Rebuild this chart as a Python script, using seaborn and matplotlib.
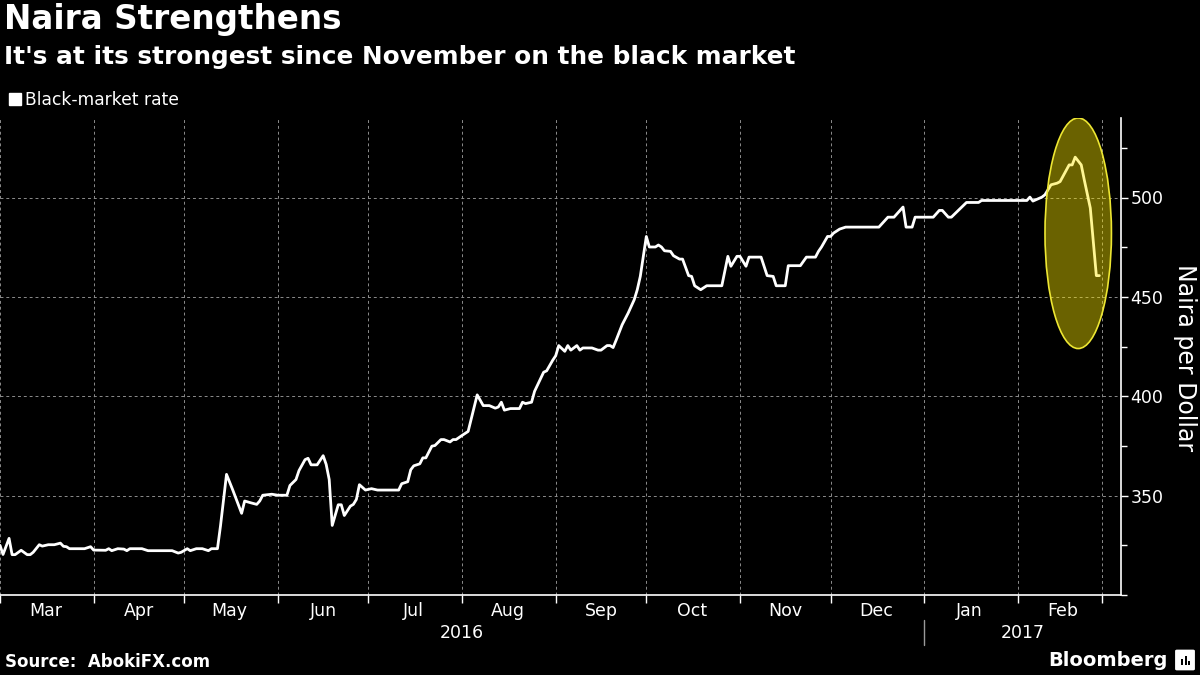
import pandas as pd
import seaborn as sns
import matplotlib.pyplot as plt
import matplotlib.dates as mdates
from matplotlib.patches import Ellipse, FancyBboxPatch, Rectangle
from matplotlib.lines import Line2D

# Black-market naira rate (naira per dollar)
dates = [
    '2016-03-01', '2016-03-02', '2016-03-04', '2016-03-05', '2016-03-06', '2016-03-08',
    '2016-03-10', '2016-03-11', '2016-03-12', '2016-03-14', '2016-03-15', '2016-03-17',
    '2016-03-19', '2016-03-21', '2016-03-22', '2016-03-23', '2016-03-24', '2016-03-29',
    '2016-03-31', '2016-04-01', '2016-04-05', '2016-04-06', '2016-04-07', '2016-04-09',
    '2016-04-11', '2016-04-12', '2016-04-13', '2016-04-17', '2016-04-19', '2016-04-27',
    '2016-04-29', '2016-04-30', '2016-05-02', '2016-05-03', '2016-05-05', '2016-05-07',
    '2016-05-09', '2016-05-10', '2016-05-12', '2016-05-13', '2016-05-15', '2016-05-17',
    '2016-05-20', '2016-05-21', '2016-05-23', '2016-05-25', '2016-05-26', '2016-05-27',
    '2016-05-30', '2016-06-01', '2016-06-04', '2016-06-05', '2016-06-07', '2016-06-08',
    '2016-06-10', '2016-06-11', '2016-06-12', '2016-06-14', '2016-06-16', '2016-06-17',
    '2016-06-18', '2016-06-19', '2016-06-21', '2016-06-22', '2016-06-23', '2016-06-25',
    '2016-06-26', '2016-06-27', '2016-06-28', '2016-06-30', '2016-07-02', '2016-07-04',
    '2016-07-11', '2016-07-12', '2016-07-14', '2016-07-15', '2016-07-16', '2016-07-18',
    '2016-07-19', '2016-07-20', '2016-07-22', '2016-07-23', '2016-07-25', '2016-07-26',
    '2016-07-28', '2016-07-29', '2016-07-30', '2016-08-01', '2016-08-03', '2016-08-06',
    '2016-08-08', '2016-08-10', '2016-08-12', '2016-08-13', '2016-08-14', '2016-08-15',
    '2016-08-17', '2016-08-20', '2016-08-21', '2016-08-22', '2016-08-24', '2016-08-25',
    '2016-08-28', '2016-08-29', '2016-08-31', '2016-09-01', '2016-09-02', '2016-09-04',
    '2016-09-05', '2016-09-06', '2016-09-08', '2016-09-09', '2016-09-10', '2016-09-13',
    '2016-09-15', '2016-09-16', '2016-09-18', '2016-09-19', '2016-09-20', '2016-09-21',
    '2016-09-23', '2016-09-25', '2016-09-27', '2016-09-28', '2016-09-29', '2016-09-30',
    '2016-10-01', '2016-10-02', '2016-10-04', '2016-10-05', '2016-10-06', '2016-10-07',
    '2016-10-09', '2016-10-10', '2016-10-12', '2016-10-13', '2016-10-15', '2016-10-16',
    '2016-10-17', '2016-10-19', '2016-10-21', '2016-10-26', '2016-10-28', '2016-10-29',
    '2016-10-31', '2016-11-01', '2016-11-03', '2016-11-04', '2016-11-08', '2016-11-09',
    '2016-11-10', '2016-11-12', '2016-11-13', '2016-11-16', '2016-11-17', '2016-11-21',
    '2016-11-23', '2016-11-26', '2016-11-27', '2016-11-28', '2016-11-30', '2016-12-01',
    '2016-12-02', '2016-12-04', '2016-12-06', '2016-12-17', '2016-12-20', '2016-12-22',
    '2016-12-25', '2016-12-26', '2016-12-28', '2016-12-29', '2017-01-04', '2017-01-06',
    '2017-01-07', '2017-01-09', '2017-01-10', '2017-01-15', '2017-01-19', '2017-01-20',
    '2017-02-04', '2017-02-05', '2017-02-06', '2017-02-09', '2017-02-10', '2017-02-12',
    '2017-02-14', '2017-02-15', '2017-02-18', '2017-02-19', '2017-02-20', '2017-02-22',
    '2017-02-23', '2017-02-25', '2017-02-27', '2017-02-28',
]
rate = [
    325.0, 320.4, 328.5, 320.3, 320.3, 322.5,
    320.3, 320.3, 321.5, 325.3, 324.6, 325.3,
    325.3, 326.1, 324.5, 324.3, 323.3, 323.3,
    324.3, 322.6, 322.5, 323.3, 322.3, 323.3,
    323.1, 322.3, 323.3, 323.3, 322.3, 322.3,
    321.1, 321.5, 323.3, 322.3, 323.3, 323.3,
    322.3, 323.3, 323.3, 334.7, 360.7, 353.1,
    341.1, 347.3, 346.4, 345.6, 347.3, 350.2,
    350.7, 350.2, 350.2, 355.1, 358.1, 362.6,
    368.1, 368.8, 365.5, 365.5, 370.1, 365.7,
    358.1, 335.0, 345.4, 345.4, 340.0, 344.7,
    345.6, 348.1, 355.5, 352.8, 353.5, 352.8,
    352.8, 356.0, 357.0, 363.0, 365.0, 366.0,
    369.0, 369.0, 374.9, 375.2, 378.2, 378.2,
    377.0, 378.2, 378.2, 380.3, 382.3, 400.7,
    395.3, 395.3, 394.0, 394.6, 397.0, 393.0,
    393.8, 393.8, 397.0, 396.3, 397.0, 402.5,
    412.1, 412.8, 418.1, 420.4, 425.5, 422.6,
    425.5, 423.2, 425.5, 423.2, 424.3, 424.3,
    423.2, 423.2, 425.5, 425.5, 424.5, 428.2,
    436.0, 441.9, 448.6, 453.6, 460.3, 470.4,
    480.4, 475.1, 475.1, 476.1, 475.1, 473.2,
    472.9, 470.7, 469.0, 469.0, 460.7, 460.3,
    455.6, 453.6, 455.6, 455.6, 470.4, 465.4,
    470.4, 470.4, 465.4, 470.0, 470.0, 465.4,
    460.7, 460.3, 455.6, 455.6, 465.7, 465.7,
    470.0, 470.0, 472.9, 475.1, 480.4, 480.4,
    482.1, 484.1, 485.1, 485.1, 490.1, 490.1,
    495.2, 485.1, 485.1, 490.1, 490.1, 493.5,
    493.5, 490.1, 490.1, 497.5, 497.5, 498.5,
    498.5, 500.2, 498.2, 500.2, 501.4, 506.4,
    507.2, 508.0, 516.4, 516.4, 520.3, 516.4,
    508.9, 494.7, 460.7, 460.7,
]

y_major = [350, 400, 450, 500]
y_minor = [300, 325, 375, 425, 475, 525]
x_range = ['2016-03-01', '2017-03-07']
y_range = [300, 540]
years = ['2016', '2017']

# highlighted stretch (the recent drop)
hl_dates = ['2017-02-10', '2017-03-04']
hl_values = [424, 540]

df = pd.DataFrame({'date': pd.to_datetime(dates), 'rate': rate})

sns.set_theme(style='dark', rc={
    'figure.facecolor': 'black', 'axes.facecolor': 'black',
    'axes.edgecolor': 'white', 'text.color': 'white',
    'xtick.color': 'white', 'ytick.color': 'white',
})
plt.rcParams['font.family'] = ['DejaVu Sans']

fig = plt.figure(figsize=(12, 6.75), dpi=100)
W, H = 1200, 675
ax = fig.add_axes([0, 1 - 595 / H, 1120.5 / W, (595 - 118) / H])

sns.lineplot(data=df, x='date', y='rate', ax=ax, color='white', lw=2, zorder=2)

x0, x1 = pd.to_datetime(x_range)
ax.set_xlim(x0, x1)
ax.set_ylim(*y_range)

# highlight ellipse
e0, e1 = mdates.date2num(pd.to_datetime(hl_dates))
ell = Ellipse(((e0 + e1) / 2, sum(hl_values) / 2), width=e1 - e0,
              height=hl_values[1] - hl_values[0],
              facecolor=(1.0, 0.92, 0.0, 0.42), edgecolor=(0.93, 0.9, 0.2),
              lw=1.2, zorder=3)
ax.add_patch(ell)

# y axis on the right
ax.yaxis.tick_right()
ax.set_yticks(y_major)
ax.set_yticks(y_minor, minor=True)
ax.tick_params(axis='y', which='major', length=5, width=1, pad=2,
               labelsize=12.5, right=True, left=False)
ax.tick_params(axis='y', which='minor', length=4, width=1, right=True, left=False)
ax.set_ylabel('')
ax.set_xlabel('')

# months: ticks at month starts, labels mid-month
ax.xaxis.set_major_locator(mdates.MonthLocator())
ax.xaxis.set_major_formatter(plt.NullFormatter())
ax.xaxis.set_minor_locator(mdates.MonthLocator(bymonthday=16))
ax.xaxis.set_minor_formatter(mdates.DateFormatter('%b'))
ax.tick_params(axis='x', which='major', length=6, width=1, bottom=True)
ax.tick_params(axis='x', which='minor', length=0, labelsize=12.5, pad=5)

ax.grid(True, which='major', axis='both', color='#8c8c8c',
        linestyle=(0, (3, 3)), linewidth=0.7)

for side in ['left', 'top']:
    ax.spines[side].set_visible(False)
for side in ['right', 'bottom']:
    ax.spines[side].set_color('white')
    ax.spines[side].set_linewidth(1.2)

# year labels under the months
xt = ax.get_xaxis_transform()
jan1 = pd.Timestamp(years[1] + '-01-01')
mid_a = x0 + (jan1 - x0) / 2
mid_b = jan1 + (x1 - jan1) / 2
ax.text(mid_a, -0.08, years[0], transform=xt, ha='center', va='center', fontsize=12.5)
ax.text(mid_b, -0.08, years[1], transform=xt, ha='center', va='center', fontsize=12.5)
ax.plot([jan1, jan1], [-0.052, -0.105], transform=xt, color='#9a9a9a',
        lw=1, clip_on=False)

# titles
fig.text(4 / W, 1 - 3 / H, 'Naira Strengthens', fontsize=23.5,
         fontweight='bold', va='top')
fig.text(4 / W, 1 - 45 / H, "It's at its strongest since November on the black market",
         fontsize=17.8, fontweight='bold', va='top')

# legend
handle = Line2D([], [], marker='s', ls='none', color='white', markersize=9)
fig.legend(handles=[handle], labels=['Black-market rate'], loc='center left',
           bbox_to_anchor=(9 / W, 1 - 100 / H), frameon=False, fontsize=12.3,
           handlelength=0.7, handletextpad=0.25, borderaxespad=0, borderpad=0)

fig.text(1185 / W, 1 - 358 / H, 'Naira per Dollar', rotation=270,
         ha='center', va='center', fontsize=17)

# footer
fig.text(5 / W, 1 - 662 / H, 'Source:  AbokiFX.com', fontsize=12,
         fontweight='bold', va='center')
fig.text(1168 / W, 1 - 660 / H, 'Bloomberg', fontsize=14,
         fontweight='bold', ha='right', va='center')
icon = FancyBboxPatch((1177 / W, 1 - 669 / H), 16 / W, 18 / H,
                      boxstyle='round,pad=0.001', transform=fig.transFigure,
                      facecolor='white', edgecolor='white')
fig.patches.append(icon)
for bx, bh in [(1181, 6), (1184.5, 9), (1188, 4)]:
    fig.patches.append(Rectangle((bx / W, 1 - 665 / H), 2 / W, bh / H,
                                 transform=fig.transFigure, facecolor='black',
                                 edgecolor='none'))

fig.savefig('out.png', dpi=100, facecolor='black')
